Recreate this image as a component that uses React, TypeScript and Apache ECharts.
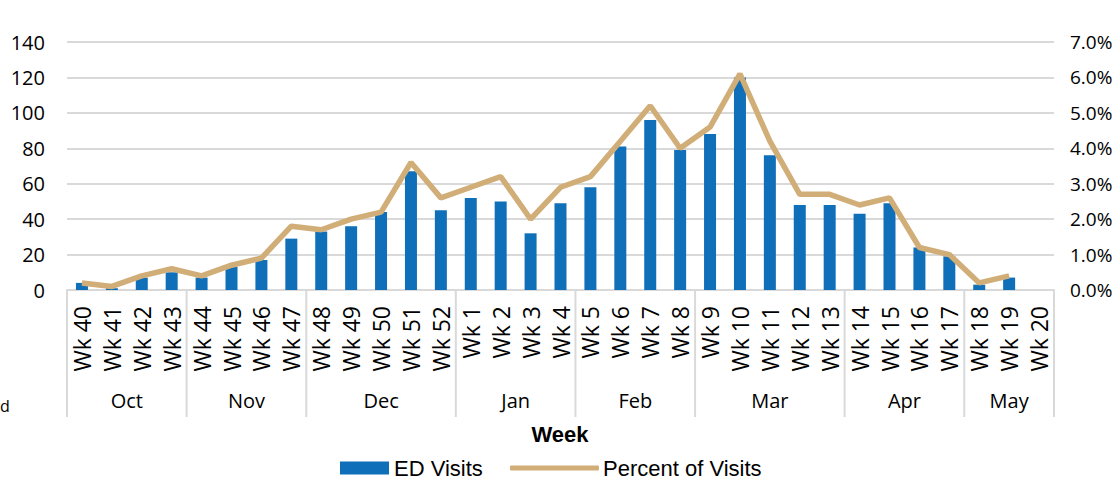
import React, { useEffect, useRef } from "react";
import * as echarts from "echarts";

const weeks = [
  "Wk 40", "Wk 41", "Wk 42", "Wk 43", "Wk 44", "Wk 45", "Wk 46", "Wk 47",
  "Wk 48", "Wk 49", "Wk 50", "Wk 51", "Wk 52",
  "Wk 1", "Wk 2", "Wk 3", "Wk 4", "Wk 5", "Wk 6", "Wk 7", "Wk 8",
  "Wk 9", "Wk 10", "Wk 11", "Wk 12", "Wk 13", "Wk 14", "Wk 15", "Wk 16", "Wk 17",
  "Wk 18", "Wk 19", "Wk 20",
];

const edVisits: (number | null)[] = [
  4, 1, 7, 10, 7, 13, 17, 29, 33, 36, 44, 67, 45,
  52, 50, 32, 49, 58, 81, 96, 79, 88, 120, 76, 48, 48, 43, 49, 24, 19,
  3, 7, null,
];

const percentVisits: (number | null)[] = [
  0.2, 0.1, 0.4, 0.6, 0.4, 0.7, 0.9, 1.8, 1.7, 2.0, 2.2, 3.6, 2.6,
  2.9, 3.2, 2.0, 2.9, 3.2, 4.2, 5.2, 4.0, 4.6, 6.1, 4.2, 2.7, 2.7, 2.4, 2.6, 1.2, 1.0,
  0.2, 0.4, null,
];

const months = ["Oct", "Nov", "Dec", "Jan", "Feb", "Mar", "Apr", "May"];
const monthWeekCounts = [4, 4, 5, 4, 4, 5, 4, 3];

const leftTicks = { min: 0, max: 140, interval: 20 };
const rightTicks = { min: 0, max: 7, interval: 1 };

const BAR_COLOR = "#0F70B9";
const LINE_COLOR = "#D1AD78";
const GRID_COLOR = "#D9D9D9";
const LABEL_FONT = "'Open Sans', 'Noto Sans', sans-serif";
const ARIAL = "'Liberation Sans', Arial, sans-serif";

export default function App() {
  const ref = useRef<HTMLDivElement>(null);

  useEffect(() => {
    if (!ref.current) return;
    const chart = echarts.init(ref.current, undefined, { renderer: "svg" });

    const monthData: number[][] = [];
    let start = 0;
    monthWeekCounts.forEach((c) => {
      monthData.push([start, c]);
      start += c;
    });

    const option: any = {
      animation: false,
      grid: {
        left: 67,
        right: 61,
        top: 42,
        bottom: 194,
        containLabel: false,
        outerBoundsMode: "none",
      },
      legend: [
        {
          data: ["ED Visits"],
          left: 340,
          top: 457,
          padding: 0,
          itemWidth: 49,
          itemHeight: 13,
          icon: "rect",
          textStyle: { fontSize: 22, fontFamily: ARIAL, color: "#000" },
        },
        {
          data: ["Percent of Visits"],
          left: 510,
          top: 457,
          padding: 0,
          itemWidth: 89,
          itemHeight: 5,
          icon: "roundRect",
          itemStyle: { color: LINE_COLOR },
          textStyle: { fontSize: 22, fontFamily: ARIAL, color: "#000", padding: [0, 0, 0, -1] },
        },
      ],
      graphic: [
        {
          type: "text",
          x: 560,
          y: 434,
          style: {
            text: "Week",
            align: "center",
            verticalAlign: "middle",
            font: `bold 22px ${ARIAL}`,
            fill: "#000",
          },
        },
        {
          type: "text",
          x: 0,
          y: 406,
          style: {
            text: "d",
            align: "left",
            verticalAlign: "middle",
            font: `16px ${LABEL_FONT}`,
            fill: "#000",
          },
        },
      ],
      xAxis: {
        type: "category",
        data: weeks,
        boundaryGap: true,
        axisLine: { show: true, lineStyle: { color: GRID_COLOR, width: 2 } },
        axisTick: { show: false },
        axisLabel: {
          rotate: 90,
          interval: 0,
          margin: 16,
          fontSize: 23,
          fontFamily: LABEL_FONT,
          color: "#000",
        },
      },
      yAxis: [
        {
          type: "value",
          min: leftTicks.min,
          max: leftTicks.max,
          interval: leftTicks.interval,
          axisLine: { show: false },
          axisTick: { show: false },
          splitLine: { show: true, lineStyle: { color: GRID_COLOR, width: 2 } },
          axisLabel: { margin: 22, fontSize: 20, fontFamily: LABEL_FONT, color: "#000" },
        },
        {
          type: "value",
          min: rightTicks.min,
          max: rightTicks.max,
          interval: rightTicks.interval,
          position: "right",
          axisLine: { show: false },
          axisTick: { show: false },
          splitLine: { show: false },
          axisLabel: {
            margin: 16,
            fontSize: 19,
            fontFamily: LABEL_FONT,
            color: "#000",
            formatter: (v: number) => v.toFixed(1) + "%",
          },
        },
      ],
      series: [
        {
          name: "ED Visits",
          type: "bar",
          data: edVisits,
          barWidth: 12,
          itemStyle: { color: BAR_COLOR },
          yAxisIndex: 0,
          z: 2,
        },
        {
          name: "Percent of Visits",
          type: "line",
          data: percentVisits,
          yAxisIndex: 1,
          symbol: "none",
          showSymbol: false,
          lineStyle: { color: LINE_COLOR, width: 5.5 },
          itemStyle: { color: LINE_COLOR },
          z: 3,
        },
        {
          name: "months",
          type: "custom",
          data: monthData,
          encode: { x: 0, y: 1 },
          clip: false,
          silent: true,
          z: 1,
          renderItem: (params: any, api: any) => {
            const s = api.value(0);
            const c = api.value(1);
            const w = api.size([1, 0])[0];
            const p = api.coord([s, 0]);
            const x0 = p[0] - w / 2;
            const x1 = x0 + c * w;
            const y0 = p[1];
            const children: any[] = [
              {
                type: "line",
                shape: { x1: x0, y1: y0, x2: x0, y2: y0 + 127 },
                style: { stroke: GRID_COLOR, lineWidth: 2 },
              },
              {
                type: "text",
                x: (x0 + x1) / 2,
                y: y0 + 110,
                style: {
                  text: months[params.dataIndex],
                  align: "center",
                  verticalAlign: "middle",
                  fontSize: 20,
                  fontFamily: LABEL_FONT,
                  fill: "#000",
                },
              },
            ];
            if (params.dataIndex === months.length - 1) {
              children.push({
                type: "line",
                shape: { x1: x1, y1: y0, x2: x1, y2: y0 + 127 },
                style: { stroke: GRID_COLOR, lineWidth: 2 },
              });
            }
            return { type: "group", children };
          },
        },
      ],
    };

    chart.setOption(option);
    return () => chart.dispose();
  }, []);

  return (
    <div
      ref={ref}
      style={{ position: "fixed", left: 0, top: 0, width: 1115, height: 484, background: "#fff" }}
    />
  );
}
